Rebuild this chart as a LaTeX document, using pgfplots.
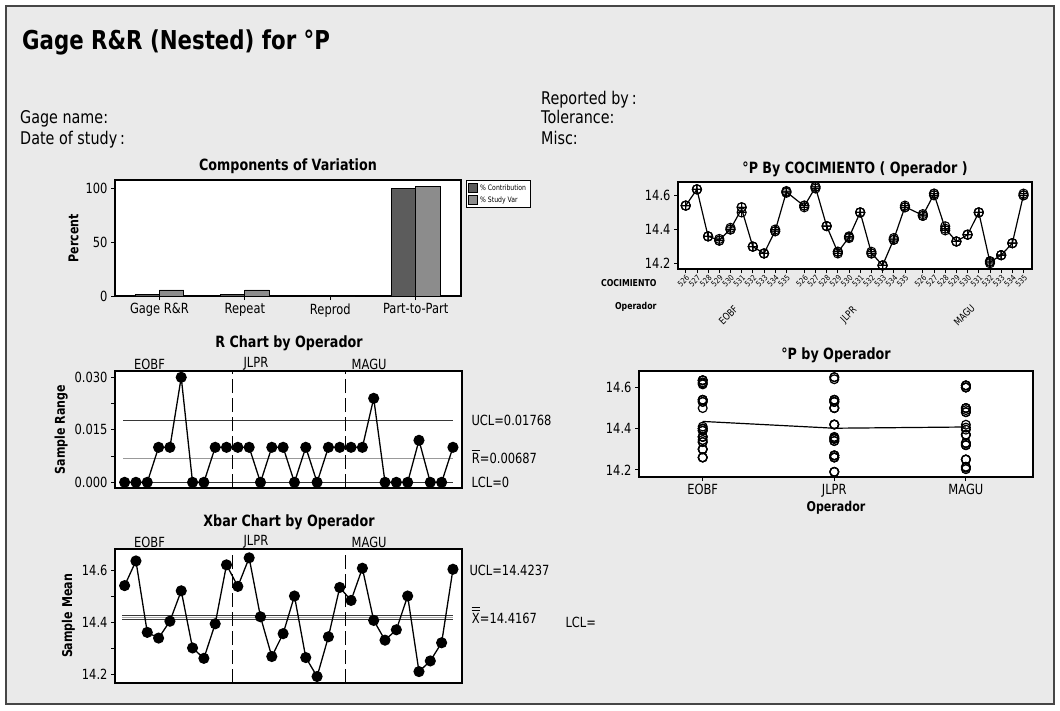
\documentclass[border=0pt]{standalone}
\usepackage{fontspec}
\setmainfont{DejaVu Sans}[FakeStretch=0.82]
\usepackage{pgfplots}
\usepackage{pgfplotstable}
\pgfplotsset{compat=1.18}
\definecolor{bg}{RGB}{234,234,234}
\definecolor{darkbar}{RGB}{92,92,92}
\definecolor{lightbar}{RGB}{140,140,140}
\definecolor{frame}{RGB}{70,70,70}
\definecolor{cl}{RGB}{55,55,55}
\newcommand{\fs}[1]{\fontsize{#1}{#1}\selectfont}
\newcommand{\obar}[1]{\vbox{\offinterlineskip\halign{\hfil##\hfil\cr\rule{0.6em}{0.07em}\cr\noalign{\kern0.12em}#1\cr}}}
\newcommand{\oobar}[1]{\vbox{\offinterlineskip\halign{\hfil##\hfil\cr\rule{0.6em}{0.07em}\cr\noalign{\kern0.14em}\rule{0.6em}{0.07em}\cr\noalign{\kern0.2em}#1\cr}}}
\pgfplotsset{sqleg/.style={legend image code/.code={\draw[##1] (0pt,-4pt) rectangle (9pt,5pt);}}}

\pgfplotstableread{
idx xp op m1 m2 m3 mean R
1 0 1 14.540 14.540 14.540 14.540 0
2 1 1 14.635 14.635 14.635 14.635 0
3 2 1 14.360 14.360 14.360 14.360 0
4 3 1 14.335 14.335 14.345 14.338 0.010
5 4 1 14.400 14.400 14.410 14.403 0.010
6 5 1 14.500 14.530 14.530 14.520 0.030
7 6 1 14.300 14.300 14.300 14.300 0
8 7 1 14.260 14.260 14.260 14.260 0
9 8 1 14.390 14.390 14.400 14.393 0.010
10 9 1 14.615 14.620 14.625 14.620 0.010
11 10.6 2 14.530 14.540 14.540 14.537 0.010
12 11.6 2 14.640 14.650 14.650 14.647 0.010
13 12.6 2 14.420 14.420 14.420 14.420 0
14 13.6 2 14.260 14.270 14.270 14.267 0.010
15 14.6 2 14.350 14.355 14.360 14.355 0.010
16 15.6 2 14.500 14.500 14.500 14.500 0
17 16.6 2 14.260 14.260 14.270 14.263 0.010
18 17.6 2 14.190 14.190 14.190 14.190 0
19 18.6 2 14.340 14.340 14.350 14.343 0.010
20 19.6 2 14.530 14.530 14.540 14.533 0.010
21 21.2 3 14.480 14.480 14.490 14.483 0.010
22 22.2 3 14.600 14.610 14.610 14.607 0.010
23 23.2 3 14.395 14.405 14.419 14.406 0.024
24 24.2 3 14.330 14.330 14.330 14.330 0
25 25.2 3 14.370 14.370 14.370 14.370 0
26 26.2 3 14.500 14.500 14.500 14.500 0
27 27.2 3 14.203 14.210 14.215 14.209 0.012
28 28.2 3 14.250 14.250 14.250 14.250 0
29 29.2 3 14.320 14.320 14.320 14.320 0
30 30.2 3 14.600 14.600 14.610 14.603 0.010
}\gagedata

\pgfplotsset{panel/.style={scale only axis, anchor=north west,
  axis background/.style={fill=white},
  tick align=outside, xtick pos=bottom, ytick pos=left, major tick length=4pt,
  tick style={black, line width=0.8pt}, axis line style={line width=1.2pt},
  ticklabel style={font=\fs{14}}, /pgf/number format/assume math mode=true,
  scaled y ticks=false, scaled x ticks=false,
  ylabel style={font=\bfseries\fs{13.5}}, clip=false}}

\begin{document}
\begin{tikzpicture}
\fill[white] (0pt,0pt) rectangle (1060pt,-710pt);
\fill[bg] (6pt,-6pt) rectangle (1054pt,-704pt);
\draw[frame, line width=1.2pt] (6pt,-6pt) rectangle (1054pt,-704pt);
\node[anchor=base west, font=\bfseries\fs{26}, inner sep=0pt] at (22pt,-49pt) {Gage R\&R (Nested) for °P};
\node[anchor=base west, font=\fs{17.5}, inner sep=0pt] at (541pt,-104pt) {Reported by\,:};
\node[anchor=base west, font=\fs{17.5}, inner sep=0pt] at (541pt,-123pt) {Tolerance:};
\node[anchor=base west, font=\fs{17.5}, inner sep=0pt] at (541pt,-144pt) {Misc:};
\node[anchor=base west, font=\fs{17.5}, inner sep=0pt] at (20pt,-123pt) {Gage name:};
\node[anchor=base west, font=\fs{17.5}, inner sep=0pt] at (20pt,-144pt) {Date of study\,:};

% Components of variation
\node[font=\bfseries\fs{15.5}] at (288pt,-166pt) {Components of Variation};
\begin{axis}[panel, at={(115pt,-180pt)}, width=346pt, height=116pt,
  xmin=-0.52, xmax=3.53, ymin=0, ymax=107.5,
  xtick={0,1,2,3}, xticklabels={Gage R\&R,Repeat,Reprod,Part-to-Part},
  ytick={0,50,100}, ylabel={Percent},
  legend cell align=left,
  legend style={at={(1.014,1)}, anchor=north west, font=\fs{7.5}, draw=black, line width=0.8pt, fill=white, inner sep=2pt, row sep=1pt}]
\addplot[ybar, bar width=0.286, bar shift=-0.143, fill=darkbar, draw=black, line width=0.9pt, sqleg]
  coordinates {(0,1.2) (1,1.2) (2,0) (3,99.7)};
\addplot[ybar, bar width=0.286, bar shift=0.143, fill=lightbar, draw=black, line width=0.9pt, sqleg]
  coordinates {(0,5.6) (1,5.6) (2,0) (3,101.3)};
\legend{\% Contribution, \% Study Var}
\end{axis}

% R chart
\node[font=\bfseries\fs{15.5}] at (289pt,-343pt) {R Chart by Operador};
\begin{axis}[panel, at={(115pt,-371pt)}, width=347pt, height=117pt,
  xmin=0.15, xmax=30.8, ymin=-0.00162, ymax=0.0318,
  xtick=\empty, ytick={0,0.0075,0.015,0.0225,0.03}, yticklabels={0.000,,0.015,,0.030},
  ylabel={Sample Range}]
\addplot[cl, line width=1.1pt] coordinates {(0.9,0.01768) (30,0.01768)};
\addplot[gray!80, line width=1.1pt] coordinates {(0.9,0.00687) (30,0.00687)};
\addplot[cl, line width=1.1pt] coordinates {(0.9,0) (30,0)};
\addplot[black, line width=1.1pt, dash pattern=on 14pt off 5pt] coordinates {(10.5,-0.00162) (10.5,0.0318)};
\addplot[black, line width=1.1pt, dash pattern=on 14pt off 5pt] coordinates {(20.5,-0.00162) (20.5,0.0318)};
\addplot[black, line width=1.3pt, mark=*, mark size=4.9pt] table[x=idx,y=R] {\gagedata};
\node[anchor=south, font=\fs{14}, inner sep=1pt] at (axis cs:3.2,0.0318) {EOBF};
\node[anchor=south, font=\fs{14}, inner sep=1pt] at (axis cs:12.6,0.0318) {JLPR};
\node[anchor=south, font=\fs{14}, inner sep=1pt] at (axis cs:22.6,0.0318) {MAGU};
\node[anchor=west, font=\fs{14}, xshift=6pt] at (axis cs:30.8,0.01768) {UCL=0.01768};
\node[anchor=base west, font=\fs{14}, xshift=6pt, yshift=-5pt] at (axis cs:30.8,0.00687) {\obar{R}=0.00687};
\node[anchor=west, font=\fs{14}, xshift=6pt] at (axis cs:30.8,0) {LCL=0};
\end{axis}

% Xbar chart
\node[font=\bfseries\fs{15.5}] at (289pt,-522pt) {Xbar Chart by Operador};
\begin{axis}[panel, at={(115pt,-549pt)}, width=347pt, height=134pt,
  xmin=0.15, xmax=30.8, ymin=14.165, ymax=14.681,
  xtick=\empty, ytick={14.2,14.3,14.4,14.5,14.6}, yticklabels={14.2,,14.4,,14.6},
  ylabel={Sample Mean}]
\addplot[cl, line width=1.1pt] coordinates {(0.8,14.4237) (30,14.4237)};
\addplot[gray!70, line width=1.1pt] coordinates {(0.8,14.4167) (30,14.4167)};
\addplot[cl, line width=1.1pt] coordinates {(0.8,14.4097) (30,14.4097)};
\addplot[black, line width=1.1pt, dash pattern=on 14pt off 5pt] coordinates {(10.5,14.165) (10.5,14.681)};
\addplot[black, line width=1.1pt, dash pattern=on 14pt off 5pt] coordinates {(20.5,14.165) (20.5,14.681)};
\addplot[black, line width=1.3pt, mark=*, mark size=4.9pt] table[x=idx,y=mean] {\gagedata};
\node[anchor=south, font=\fs{14}, inner sep=1pt] at (axis cs:3.2,14.681) {EOBF};
\node[anchor=south, font=\fs{14}, inner sep=1pt] at (axis cs:12.6,14.681) {JLPR};
\node[anchor=south, font=\fs{14}, inner sep=1pt] at (axis cs:22.6,14.681) {MAGU};
\node[anchor=west, font=\fs{14}, xshift=4pt] at (axis cs:30.8,14.6) {UCL=14.4237};
\node[anchor=base west, font=\fs{14}, xshift=6pt, yshift=-6pt] at (axis cs:30.8,14.4167) {\oobar{X}=14.4167};
\end{axis}
\node[anchor=west, font=\fs{14}] at (562pt,-622pt) {LCL=};

% P by COCIMIENTO
\node[font=\bfseries\fs{15.5}] at (855pt,-169pt) {°P By COCIMIENTO ( Operador )};
\begin{axis}[panel, at={(678pt,-182pt)}, width=354pt, height=87pt,
  xmin=-0.69, xmax=30.96, ymin=14.169, ymax=14.678,
  xtick=data,
  xticklabels={526,527,528,529,530,531,532,533,534,535,526,527,528,529,530,531,532,533,534,535,526,527,528,529,530,531,532,533,534,535},
  xticklabel style={rotate=45, anchor=north east, font=\fs{8}, inner sep=0.5pt},
  ytick={14.2,14.4,14.6}]
\addplot[black, line width=1.2pt] table[x=xp,y=mean] {\gagedata};
\addplot[only marks, mark=oplus, mark size=4.6pt, mark options={black, line width=1pt}] table[x=xp,y=m1] {\gagedata};
\addplot[only marks, mark=oplus, mark size=4.6pt, mark options={black, line width=1pt}] table[x=xp,y=m2] {\gagedata};
\addplot[only marks, mark=oplus, mark size=4.6pt, mark options={black, line width=1pt}] table[x=xp,y=m3] {\gagedata};
\node[anchor=east, font=\bfseries\fs{9.5}] at (axis cs:-2.3,14.087) {COCIMIENTO};
\node[anchor=east, font=\bfseries\fs{9.5}] at (axis cs:-2.3,13.947) {Operador};
\node[rotate=45, font=\fs{10}] at (axis cs:3.8,13.90) {EOBF};
\node[rotate=45, font=\fs{10}] at (axis cs:14.6,13.90) {JLPR};
\node[rotate=45, font=\fs{10}] at (axis cs:24.9,13.90) {MAGU};
\end{axis}

% P by Operador
\node[font=\bfseries\fs{15.5}] at (836pt,-355pt) {°P by Operador};
\begin{axis}[panel, at={(639pt,-371pt)}, width=394pt, height=106pt,
  xmin=0.516, xmax=3.51, ymin=14.165, ymax=14.68,
  xtick={1,2,3}, xticklabels={EOBF,JLPR,MAGU}, ytick={14.2,14.4,14.6},
  xlabel={Operador}, xlabel style={font=\bfseries\fs{13.5}, yshift=3pt}]
\addplot[black, line width=1.2pt] coordinates {(1,14.435) (2,14.402) (3,14.408)};
\addplot[only marks, mark=o, mark size=4.4pt, mark options={black, line width=1.2pt}] table[x=op,y=m1] {\gagedata};
\addplot[only marks, mark=o, mark size=4.4pt, mark options={black, line width=1.2pt}] table[x=op,y=m2] {\gagedata};
\addplot[only marks, mark=o, mark size=4.4pt, mark options={black, line width=1.2pt}] table[x=op,y=m3] {\gagedata};
\end{axis}
\end{tikzpicture}
\end{document}
